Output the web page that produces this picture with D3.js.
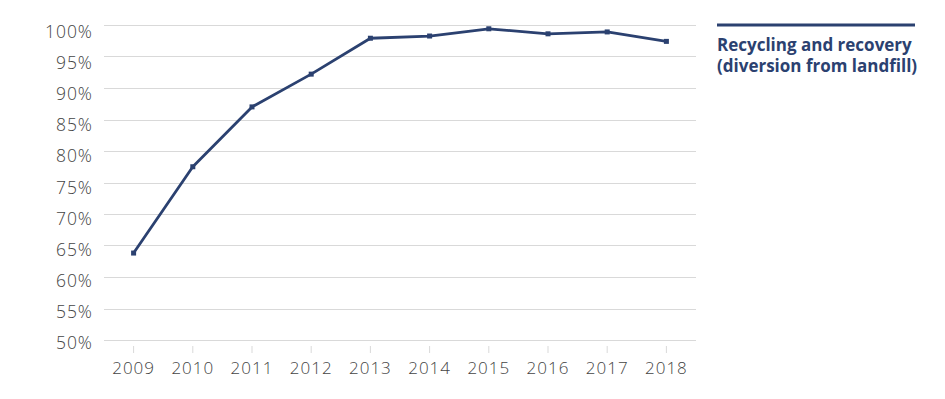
<!DOCTYPE html>
<html>
<head>
<meta charset="utf-8">
<script src="https://cdn.jsdelivr.net/npm/d3@7"></script>
<style>
  html, body { margin: 0; padding: 0; background: #ffffff; }
  svg { display: block; }
</style>
</head>
<body>
<svg id="chart" width="945" height="399"></svg>
<script>
const years = ["2009","2010","2011","2012","2013","2014","2015","2016","2017","2018"];
const recyclingValues = [63.8, 77.5, 87.0, 92.2, 97.9, 98.25, 99.4, 98.6, 98.9, 97.4];
const yTicks = [50, 55, 60, 65, 70, 75, 80, 85, 90, 95, 100];
const seriesName = ["Recycling and recovery", "(diversion from landfill)"];

const svg = d3.select("#chart");
const margin = { left: 104, right: 249, top: 25, bottom: 59 };
const W = 945, H = 399;
const navy = "#2b4170";
const labelFont = "'Open Sans', Lato, sans-serif";

const x = d3.scaleBand().domain(years).range([margin.left, W - margin.right]);
const y = d3.scaleLinear().domain([50, 100]).range([H - margin.bottom, margin.top]);
// tick labels in the original sit slightly below their gridlines
const yLabel = d3.scaleLinear().domain([50, 100]).range([343.3, 31.5]);

// gridlines
svg.append("g")
  .selectAll("line")
  .data(yTicks)
  .join("line")
  .attr("x1", margin.left).attr("x2", W - margin.right)
  .attr("y1", d => Math.round(y(d)) + 0.5).attr("y2", d => Math.round(y(d)) + 0.5)
  .attr("stroke", "#d9d9d9").attr("stroke-width", 1.2);

// y axis labels
const yAxis = d3.axisLeft(yLabel).tickValues(yTicks).tickFormat(d => d + "%").tickSize(0).tickPadding(11);
const gy = svg.append("g").attr("transform", `translate(${margin.left},0)`).call(yAxis);
gy.select(".domain").remove();
gy.selectAll("text")
  .attr("font-family", labelFont)
  .attr("font-size", 17.5).attr("fill", "#444444").attr("font-weight", 300)
  .attr("letter-spacing", 1);

// x axis
const xAxis = d3.axisBottom(x).tickSize(0).tickPadding(22);
const gx = svg.append("g").attr("transform", `translate(0,${H - margin.bottom})`).call(xAxis);
gx.select(".domain").remove();
gx.selectAll("text")
  .attr("font-family", labelFont)
  .attr("font-size", 17).attr("fill", "#444444").attr("font-weight", 300)
  .attr("letter-spacing", 1);
// small tick marks below axis
svg.append("g")
  .selectAll("line")
  .data(years)
  .join("line")
  .attr("x1", d => x(d) + x.bandwidth() / 2).attr("x2", d => x(d) + x.bandwidth() / 2)
  .attr("y1", H - margin.bottom + 6).attr("y2", H - margin.bottom + 13)
  .attr("stroke", "#d9d9d9").attr("stroke-width", 1);

// line
const line = d3.line()
  .x((d, i) => x(years[i]) + x.bandwidth() / 2)
  .y(d => y(d));
svg.append("path")
  .datum(recyclingValues)
  .attr("d", line)
  .attr("fill", "none")
  .attr("stroke", navy)
  .attr("stroke-width", 2.8)
  .attr("stroke-linejoin", "round");

svg.append("g")
  .selectAll("rect")
  .data(recyclingValues)
  .join("rect")
  .attr("x", (d, i) => x(years[i]) + x.bandwidth() / 2 - 2.5)
  .attr("y", d => y(d) - 2.5)
  .attr("width", 5).attr("height", 5)
  .attr("fill", navy);

// legend
const lg = svg.append("g");
lg.append("line")
  .attr("x1", 717).attr("x2", 915).attr("y1", 25).attr("y2", 25)
  .attr("stroke", navy).attr("stroke-width", 2.8);
lg.selectAll("text")
  .data(seriesName)
  .join("text")
  .attr("x", 717)
  .attr("y", (d, i) => 50.5 + i * 21)
  .attr("font-family", labelFont)
  .attr("font-size", 17).attr("font-weight", 700)
  .attr("fill", navy)
  .text(d => d);
</script>
</body>
</html>
